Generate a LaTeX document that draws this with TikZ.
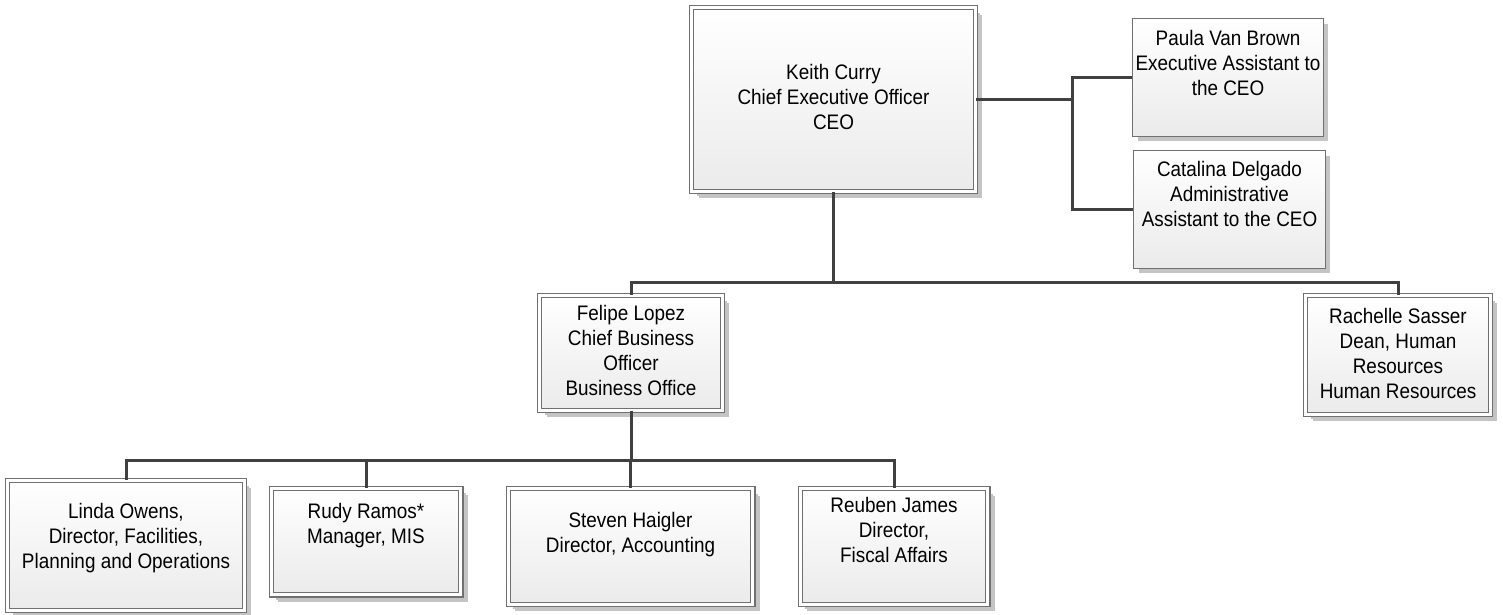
\documentclass[tikz,border=0pt]{standalone}
\usepackage{fontspec}
\setmainfont{Liberation Sans}[FakeStretch=0.9]
\usetikzlibrary{shadows}
\definecolor{linkgray}{HTML}{404040}
\definecolor{edgegray}{HTML}{707070}
\definecolor{shadegray}{HTML}{C4C4C4}
\newcommand{\lifted}[2]{\raisebox{#1}[\height][\depth]{\begin{tabular}{@{}c@{}}#2\end{tabular}}}
\begin{document}
\begin{tikzpicture}[x=1pt,y=-1pt]
	\tikzstyle{every node}=[font=\fontsize{21}{25}\selectfont, inner sep=0pt]
	\tikzstyle{box}=[rectangle, draw=edgegray, line width=1.2pt, top color=white, bottom color=black!8,
		drop shadow={shadow xshift=5pt, shadow yshift=-5pt, fill=shadegray, opacity=1}]
	\tikzstyle{dbox}=[box, double=white, double distance=3pt,
		drop shadow={shadow xshift=7pt, shadow yshift=-7pt, fill=shadegray, opacity=1}]
	\tikzstyle{link}=[draw=linkgray, line width=3pt]

	\useasboundingbox (0,0) rectangle (1503,614);

	\node[dbox, minimum width=283.6pt, minimum height=183.6pt] (ceo) at (833.5,99.5)
		{\lifted{0pt}{Keith Curry\\Chief Executive Officer\\CEO}};
	\node[box, minimum width=190.8pt, minimum height=117.8pt] (paula) at (1228,77.5)
		{\lifted{12.5pt}{Paula Van Brown\\Executive Assistant to\\the CEO}};
	\node[box, minimum width=191.8pt, minimum height=117.8pt] (catalina) at (1229.5,209.5)
		{\lifted{13.5pt}{Catalina Delgado\\Administrative\\Assistant to the CEO}};
	\node[dbox, minimum width=182.6pt, minimum height=114.6pt] (felipe) at (631,353)
		{\lifted{0pt}{Felipe Lopez\\Chief Business\\Officer\\Business Office}};
	\node[dbox, minimum width=184.6pt, minimum height=118.6pt] (rachelle) at (1398,355)
		{\lifted{-1pt}{Rachelle Sasser\\Dean, Human\\Resources\\Human Resources}};
	\node[dbox, minimum width=236.6pt, minimum height=129.6pt] (linda) at (126,545.5)
		{\lifted{7.5pt}{Linda Owens,\\Director, Facilities,\\Planning and Operations}};
	\node[dbox, minimum width=189.6pt, minimum height=106.6pt] (rudy) at (366,541.5)
		{\lifted{16pt}{Rudy Ramos*\\Manager, MIS}};
	\node[dbox, minimum width=244.6pt, minimum height=115.6pt] (steven) at (630.5,546.5)
		{\lifted{12pt}{Steven Haigler\\Director, Accounting}};
	\node[dbox, minimum width=187.6pt, minimum height=115.6pt] (reuben) at (894,546.5)
		{\lifted{14.5pt}{Reuben James\\Director,\\Fiscal Affairs}};

	% CEO and assistants
	\coordinate (topbus) at (833.5,282);
	\draw[link] (ceo.east) -- ++(97,0) coordinate (sidebus);
	\draw[link] (paula.west) -| (sidebus) |- (catalina.west);
	\draw[link] (ceo.south) -- (topbus);
	\draw[link] (topbus) -| (felipe.north);
	\draw[link] (topbus) -| (rachelle.north);

	% business office
	\coordinate (lowbus) at (631,460);
	\draw[link] (felipe.south) -- (lowbus);
	\draw[link] (lowbus) -| (linda.north);
	\draw[link] (lowbus) -| (rudy.north);
	\draw[link] (lowbus) -| (steven.north);
	\draw[link] (lowbus) -| (reuben.north);
\end{tikzpicture}
\end{document}
